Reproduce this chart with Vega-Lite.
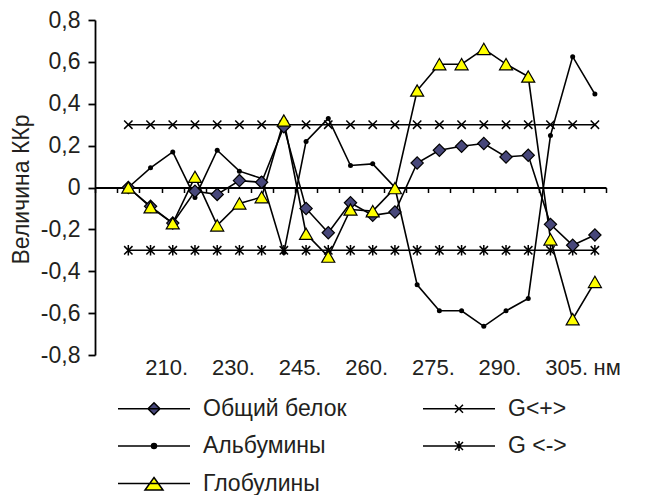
{
  "$schema": "https://vega.github.io/schema/vega-lite/v6.json",
  "width": 511,
  "height": 335,
  "autosize": {"type": "none"},
  "padding": {"left": 95, "top": 20, "right": 45, "bottom": 140},
  "config": {
    "view": {"stroke": null},
    "font": "Liberation Sans",
    "axis": {"labelColor": "#231f20", "titleColor": "#231f20", "domainColor": "black", "tickColor": "black", "grid": false, "labelFont": "Liberation Sans", "titleFont": "Liberation Sans"},
    "legend": {
      "orient": "none", "legendX": 23, "legendY": 377, "columns": 2, "columnPadding": 73, "rowPadding": 13.5,
      "symbolSize": 400, "symbolStrokeColor": "black", "symbolStrokeWidth": 1.5, "symbolOffset": 0,
      "labelOffset": 62, "labelFontSize": 23, "labelLimit": 400, "labelColor": "#231f20", "padding": 0, "titlePadding": 0,
      "labelFont": "Liberation Sans", "gridAlign": "each"
    }
  },
  "data": {
    "values": [
      {"nm": 200, "Общий белок": 0, "Альбумины": 0, "Глобулины": 0, "G<+>": 0.3, "G <->": -0.3},
      {"nm": 205, "Общий белок": -0.09, "Альбумины": 0.094, "Глобулины": -0.094, "G<+>": 0.3, "G <->": -0.3},
      {"nm": 210, "Общий белок": -0.17, "Альбумины": 0.17, "Глобулины": -0.171, "G<+>": 0.3, "G <->": -0.3},
      {"nm": 215, "Общий белок": -0.018, "Альбумины": -0.048, "Глобулины": 0.051, "G<+>": 0.3, "G <->": -0.3},
      {"nm": 220, "Общий белок": -0.033, "Альбумины": 0.178, "Глобулины": -0.181, "G<+>": 0.3, "G <->": -0.3},
      {"nm": 230, "Общий белок": 0.033, "Альбумины": 0.078, "Глобулины": -0.076, "G<+>": 0.3, "G <->": -0.3},
      {"nm": 235, "Общий белок": 0.025, "Альбумины": 0.043, "Глобулины": -0.046, "G<+>": 0.3, "G <->": -0.3},
      {"nm": 240, "Общий белок": 0.29, "Альбумины": -0.311, "Глобулины": 0.32, "G<+>": 0.3, "G <->": -0.3},
      {"nm": 245, "Общий белок": -0.1, "Альбумины": 0.22, "Глобулины": -0.221, "G<+>": 0.3, "G <->": -0.3},
      {"nm": 250, "Общий белок": -0.216, "Альбумины": 0.33, "Глобулины": -0.33, "G<+>": 0.3, "G <->": -0.3},
      {"nm": 255, "Общий белок": -0.073, "Альбумины": 0.105, "Глобулины": -0.105, "G<+>": 0.3, "G <->": -0.3},
      {"nm": 260, "Общий белок": -0.133, "Альбумины": 0.113, "Глобулины": -0.113, "G<+>": 0.3, "G <->": -0.3},
      {"nm": 265, "Общий белок": -0.117, "Альбумины": 0.0, "Глобулины": -0.003, "G<+>": 0.3, "G <->": -0.3},
      {"nm": 270, "Общий белок": 0.117, "Альбумины": -0.465, "Глобулины": 0.463, "G<+>": 0.3, "G <->": -0.3},
      {"nm": 275, "Общий белок": 0.178, "Альбумины": -0.589, "Глобулины": 0.589, "G<+>": 0.3, "G <->": -0.3},
      {"nm": 280, "Общий белок": 0.197, "Альбумины": -0.589, "Глобулины": 0.589, "G<+>": 0.3, "G <->": -0.3},
      {"nm": 285, "Общий белок": 0.21, "Альбумины": -0.663, "Глобулины": 0.662, "G<+>": 0.3, "G <->": -0.3},
      {"nm": 290, "Общий белок": 0.146, "Альбумины": -0.589, "Глобулины": 0.589, "G<+>": 0.3, "G <->": -0.3},
      {"nm": 295, "Общий белок": 0.154, "Альбумины": -0.53, "Глобулины": 0.53, "G<+>": 0.3, "G <->": -0.3},
      {"nm": 300, "Общий белок": -0.176, "Альбумины": 0.248, "Глобулины": -0.248, "G<+>": 0.3, "G <->": -0.3},
      {"nm": 305, "Общий белок": -0.276, "Альбумины": 0.625, "Глобулины": -0.629, "G<+>": 0.3, "G <->": -0.3},
      {"nm": 310, "Общий белок": -0.227, "Альбумины": 0.446, "Глобулины": -0.451, "G<+>": 0.3, "G <->": -0.3}
    ]
  },
  "transform": [
    {"fold": ["Общий белок", "Альбумины", "Глобулины", "G<+>", "G <->"], "as": ["series", "v"]}
  ],
  "encoding": {
    "x": {
      "field": "nm", "type": "ordinal",
      "scale": {"type": "band", "domain": ["", 200, 205, 210, 215, 220, 230, 235, 240, 245, 250, 255, 260, 265, 270, 275, 280, 285, 290, 295, 300, 305, 310], "paddingInner": 0, "paddingOuter": 0},
      "axis": null
    },
    "y": {
      "field": "v", "type": "quantitative",
      "scale": {"domain": [-0.8, 0.8], "nice": false, "zero": false},
      "axis": {
        "values": [-0.8, -0.6, -0.4, -0.2, 0, 0.2, 0.4, 0.6, 0.8],
        "labelExpr": "datum.value == 0 ? '0' : (datum.value < 0 ? '-' : '') + replace(format(abs(datum.value), '.1f'), '.', ',')",
        "tickSize": 7, "tickWidth": 1.8, "domainWidth": 1.8, "labelPadding": 8, "labelFontSize": 23,
        "title": "Величина ККр", "titleFontSize": 23, "titleFontWeight": "normal",
        "titleX": -74, "titleY": 169, "titleAngle": -90, "titleAlign": "center", "titleBaseline": "middle"
      }
    }
  },
  "layer": [
    {
      "mark": {"type": "line", "color": "black", "strokeWidth": 1.6},
      "encoding": {
        "detail": {"field": "series"},
        "x": {
          "field": "nm", "type": "ordinal",
          "scale": {"type": "band", "domain": ["", 200, 205, 210, 215, 220, 230, 235, 240, 245, 250, 255, 260, 265, 270, 275, 280, 285, 290, 295, 300, 305, 310], "paddingInner": 0, "paddingOuter": 0},
          "axis": {"orient": "bottom", "offset": -167.5, "labels": false, "ticks": true, "tickSize": 5, "tickWidth": 1.5, "tickBand": "extent", "domainWidth": 1.8, "title": null}
        }
      }
    },
    {
      "transform": [{"filter": {"field": "series", "equal": "G<+>"}}],
      "mark": {"type": "point", "shape": "M-1,-1L1,1M-1,1L1,-1", "size": 70, "filled": false, "stroke": "black", "strokeWidth": 1.5, "opacity": 1}
    },
    {
      "transform": [{"filter": {"field": "series", "equal": "G <->"}}],
      "mark": {"type": "point", "shape": "M-1,-1L1,1M-1,1L1,-1M0,-1.25L0,1.25", "size": 70, "filled": false, "stroke": "black", "strokeWidth": 1.5, "opacity": 1}
    },
    {
      "transform": [{"filter": {"field": "series", "equal": "Альбумины"}}],
      "mark": {"type": "point", "shape": "circle", "size": 25, "filled": true, "color": "black", "opacity": 1}
    },
    {
      "transform": [{"filter": {"field": "series", "equal": "Общий белок"}}],
      "mark": {"type": "point", "shape": "diamond", "size": 150, "filled": true, "fill": "#47477a", "stroke": "black", "strokeWidth": 1.2, "opacity": 1},
      "encoding": {
        "x": {
          "field": "nm", "type": "ordinal",
          "scale": {"type": "band", "domain": ["", 200, 205, 210, 215, 220, 230, 235, 240, 245, 250, 255, 260, 265, 270, 275, 280, 285, 290, 295, 300, 305, 310], "paddingInner": 0, "paddingOuter": 0},
          "axis": {
            "orient": "bottom", "domain": false, "ticks": false, "tickSize": 0, "labelPadding": 2, "labelFontSize": 22, "labelOffset": -6,
            "labelOverlap": false, "labelBound": false, "labelAngle": 0,
            "labelExpr": "indexof([210, 230, 245, 260, 275, 290, 305], datum.value) >= 0 ? datum.value + '.' : ''",
            "title": "нм", "titleFontSize": 22, "titleFontWeight": "normal", "titleX": 498, "titleY": 2, "titleAlign": "left", "titleBaseline": "top"
          }
        }
      }
    },
    {
      "transform": [{"filter": {"field": "series", "equal": "Глобулины"}}],
      "mark": {"type": "point", "shape": "triangle-up", "size": 170, "filled": true, "fill": "#ffff00", "stroke": "black", "strokeWidth": 1.2, "opacity": 1}
    },
    {
      "transform": [{"filter": "datum.v > 5"}],
      "mark": {"type": "point", "filled": true, "strokeWidth": 1.5, "size": 400, "opacity": 1},
      "encoding": {
        "shape": {
          "field": "series", "type": "nominal",
          "scale": {
            "domain": ["Общий белок", "Альбумины", "Глобулины", "G<+>", "G <->"],
            "range": [
              "M-1.15,0H6.05M2.45,-0.6L3.05,0L2.45,0.6L1.85,0Z",
              "M-1.15,0H6.05M2.2,0A0.25,0.25,0,1,1,2.7,0A0.25,0.25,0,1,1,2.2,0Z",
              "M-1.15,0H6.05M2.45,-0.6L3.35,0.65L1.55,0.65Z",
              "M-1.15,0H6.05M2.05,-0.4L2.85,0.4M2.05,0.4L2.85,-0.4",
              "M-1.15,0H6.05M2.05,-0.4L2.85,0.4M2.05,0.4L2.85,-0.4M2.45,-0.5V0.5"
            ]
          },
          "legend": {"title": null}
        },
        "fill": {
          "field": "series", "type": "nominal",
          "scale": {
            "domain": ["Общий белок", "Альбумины", "Глобулины", "G<+>", "G <->"],
            "range": ["#47477a", "black", "#ffff00", "black", "black"]
          },
          "legend": {"title": null}
        },
        "stroke": {
          "field": "series", "type": "nominal",
          "scale": {
            "domain": ["Общий белок", "Альбумины", "Глобулины", "G<+>", "G <->"],
            "range": ["black", "black", "black", "black", "black"]
          },
          "legend": {"title": null}
        }
      }
    }
  ],
  "resolve": {"scale": {"x": "shared"}, "axis": {"x": "independent"}}
}
